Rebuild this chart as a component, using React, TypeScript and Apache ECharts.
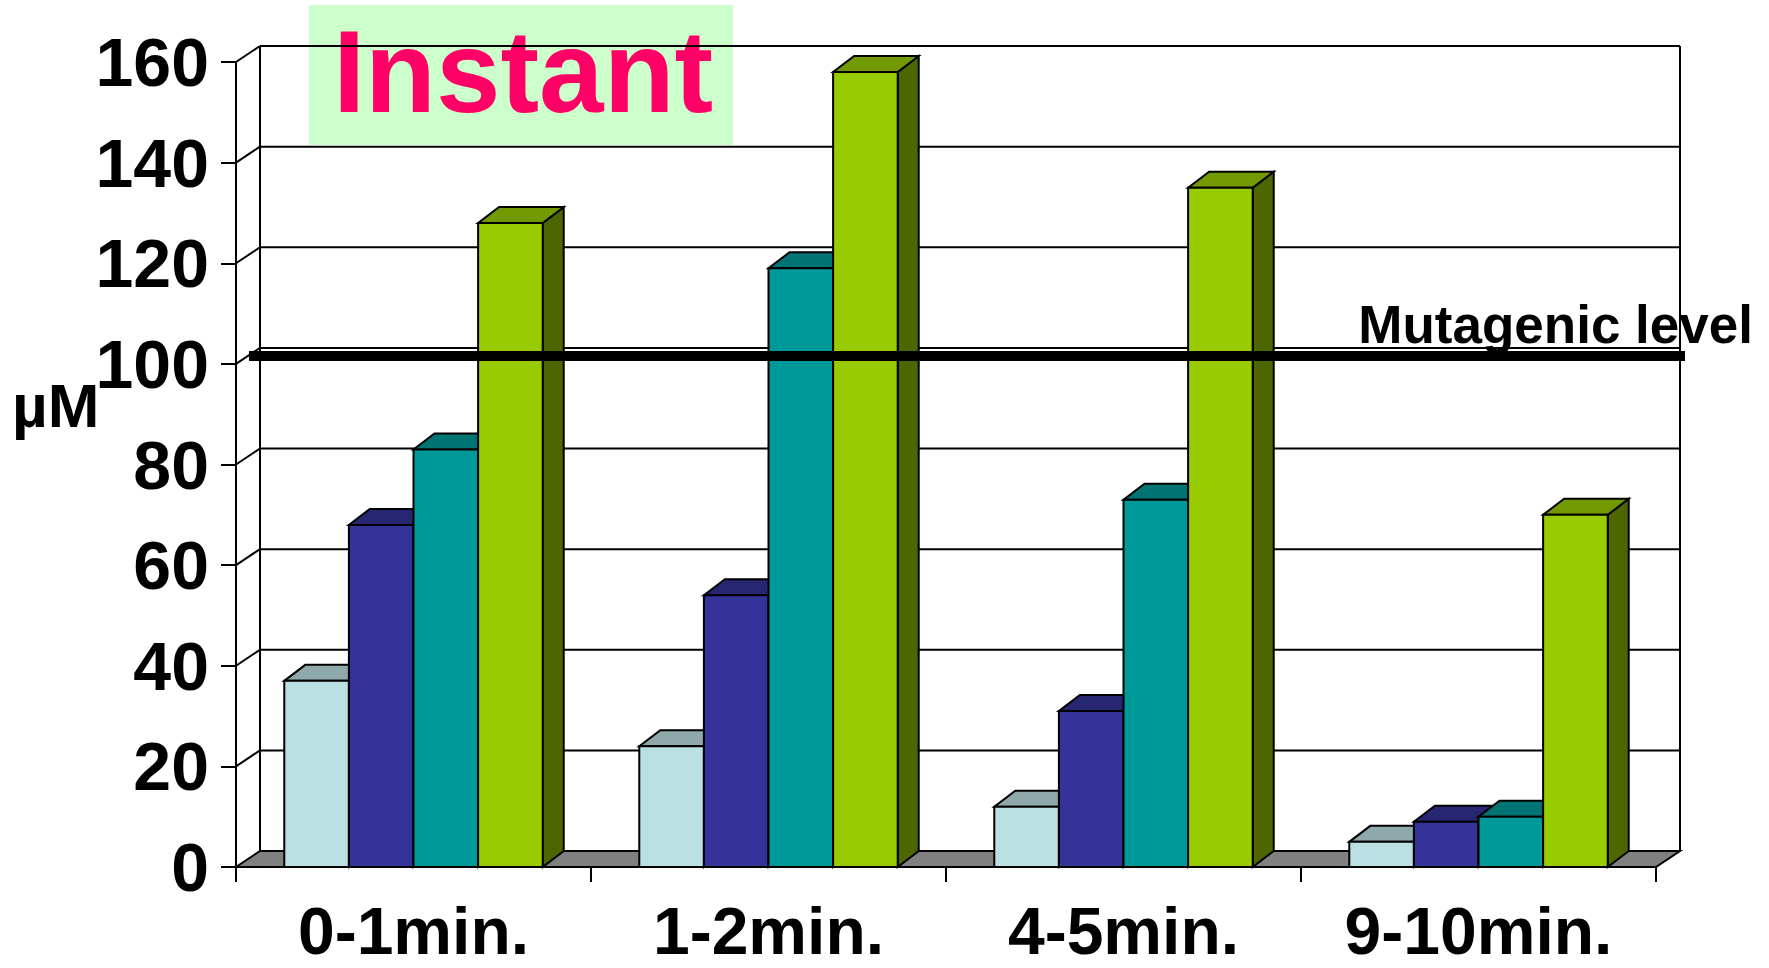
import React, { useEffect, useRef } from "react";
import * as echarts from "echarts";

const categories = ["0-1min.", "1-2min.", "4-5min.", "9-10min."];
const seriesA = [37, 24, 12, 5];
const seriesB = [68, 54, 31, 9];
const seriesC = [83, 119, 73, 10];
const seriesD = [128, 158, 135, 70];
const yTicks = [0, 20, 40, 60, 80, 100, 120, 140, 160];
const mutagenicLevel = [100];

const FONT = "'Liberation Sans', Arial, Helvetica, sans-serif";
const WALL_DX = 24;
const WALL_DY = 16;
const BAR_DX = 21;
const BAR_DY = 16;

const barStyles = [
  { front: "#BBE0E3", top: "#8FA9AB", side: "#5E7072" },
  { front: "#333399", top: "#262673", side: "#1A1A4D" },
  { front: "#009999", top: "#007373", side: "#004D4D" },
  { front: "#99CC00", top: "#739900", side: "#4D6600" },
];

function makeBarSeries(values: number[], idx: number) {
  const st = barStyles[idx];
  return {
    type: "custom",
    name: "s" + idx,
    z: 3 + idx,
    data: values.map((v, i) => [i, v]),
    renderItem: (params: any, api: any) => {
      const cat = api.value(0);
      const v = api.value(1);
      const top = api.coord([cat, v]);
      const base = api.coord([cat, 0]);
      const cw = api.size([1, 0])[0];
      const bw = cw * 0.182;
      const x0 = top[0] - 2 * bw + idx * bw;
      const yT = top[1];
      const y0 = base[1];
      const lineStyle = { stroke: "#000", lineWidth: 2 };
      return {
        type: "group",
        children: [
          {
            type: "polygon",
            shape: {
              points: [
                [x0 + bw, yT],
                [x0 + bw + BAR_DX, yT - BAR_DY],
                [x0 + bw + BAR_DX, y0 - BAR_DY],
                [x0 + bw, y0],
              ],
            },
            style: { fill: st.side, ...lineStyle },
          },
          {
            type: "polygon",
            shape: {
              points: [
                [x0, yT],
                [x0 + bw, yT],
                [x0 + bw + BAR_DX, yT - BAR_DY],
                [x0 + BAR_DX, yT - BAR_DY],
              ],
            },
            style: { fill: st.top, ...lineStyle },
          },
          {
            type: "rect",
            shape: { x: x0, y: yT, width: bw, height: y0 - yT },
            style: { fill: st.front, ...lineStyle },
          },
        ],
      };
    },
  };
}

export default function App() {
  const ref = useRef<HTMLDivElement>(null);
  useEffect(() => {
    if (!ref.current) return;
    const chart = echarts.init(ref.current, null, { renderer: "svg" });
    const option: any = {
      animation: false,
      backgroundColor: "#ffffff",
      grid: { left: 236, top: 62, width: 1420, height: 805 },
      xAxis: {
        type: "category",
        data: categories,
        boundaryGap: true,
        axisLine: { show: true, lineStyle: { color: "#000", width: 2 } },
        axisTick: { show: true, interval: 0, length: 15, lineStyle: { color: "#000", width: 2 } },
        axisLabel: {
          interval: 0,
          color: "#000",
          fontSize: 66,
          lineHeight: 54,
          fontWeight: "bold",
          fontFamily: FONT,
          margin: 37,
        },
        splitLine: { show: false },
      },
      yAxis: {
        type: "value",
        min: 0,
        max: 160,
        interval: 20,
        axisLine: { show: true, lineStyle: { color: "#000", width: 2 } },
        axisTick: { show: true, length: 15, lineStyle: { color: "#000", width: 2 } },
        axisLabel: {
          color: "#000",
          fontSize: 68,
          fontWeight: "bold",
          fontFamily: FONT,
          margin: 27,
        },
        splitLine: { show: false },
      },
      graphic: [
        {
          type: "group",
          z: 100,
          children: [
            {
              type: "rect",
              shape: { x: 309, y: 5, width: 424, height: 140 },
              style: { fill: "#CCFFCC" },
            },
            {
              type: "text",
              x: 523,
              y: 72,
              style: {
                text: "Instant",
                fill: "#FF0066",
                font: `bold 116px ${FONT}`,
                align: "center",
                verticalAlign: "middle",
              },
            },
          ],
        },
        {
          type: "text",
          z: 100,
          x: 12,
          y: 405,
          style: {
            text: "µM",
            fill: "#000",
            font: `bold 62px ${FONT}`,
            align: "left",
            verticalAlign: "middle",
          },
        },
      ],
      series: [
        {
          type: "custom",
          name: "frame",
          z: 1,
          data: yTicks.map((t) => [0, t]),
          renderItem: (params: any, api: any) => {
            const cs = params.coordSys;
            const v = api.value(1);
            const yf = api.coord([0, v])[1];
            const yb = yf - WALL_DY;
            const x = cs.x;
            const w = cs.width;
            const ls = { stroke: "#000", lineWidth: 2 };
            const children: any[] = [];
            if (v === 0) {
              const yBot = cs.y + cs.height;
              const yTop = cs.y;
              children.push({
                type: "polygon",
                shape: {
                  points: [
                    [x, yBot],
                    [x + w, yBot],
                    [x + w + WALL_DX, yBot - WALL_DY],
                    [x + WALL_DX, yBot - WALL_DY],
                  ],
                },
                style: { fill: "#808080", ...ls },
              });
              children.push({
                type: "line",
                shape: { x1: x + WALL_DX, y1: yTop - WALL_DY, x2: x + WALL_DX, y2: yBot - WALL_DY },
                style: ls,
              });
              children.push({
                type: "line",
                shape: { x1: x + w + WALL_DX, y1: yTop - WALL_DY, x2: x + w + WALL_DX, y2: yBot - WALL_DY },
                style: ls,
              });
            } else {
              children.push({
                type: "line",
                shape: { x1: x + WALL_DX, y1: yb, x2: x + w + WALL_DX, y2: yb },
                style: ls,
              });
              children.push({
                type: "line",
                shape: { x1: x, y1: yf, x2: x + WALL_DX, y2: yb },
                style: ls,
              });
            }
            return { type: "group", children };
          },
        },
        makeBarSeries(seriesA, 0),
        makeBarSeries(seriesB, 1),
        makeBarSeries(seriesC, 2),
        makeBarSeries(seriesD, 3),
        {
          type: "custom",
          name: "mutagenic",
          z: 20,
          data: mutagenicLevel.map((v) => [0, v]),
          renderItem: (params: any, api: any) => {
            const cs = params.coordSys;
            const y = api.coord([0, api.value(1)])[1] - 8;
            return {
              type: "group",
              children: [
                {
                  type: "line",
                  shape: { x1: cs.x + 13, y1: y, x2: cs.x + cs.width + 29, y2: y },
                  style: { stroke: "#000", lineWidth: 10 },
                },
                {
                  type: "text",
                  x: cs.x + cs.width + 97,
                  y: y - 31,
                  style: {
                    text: "Mutagenic level",
                    fill: "#000",
                    font: `bold 53px ${FONT}`,
                    align: "right",
                    verticalAlign: "middle",
                  },
                },
              ],
            };
          },
        },
      ],
    };
    chart.setOption(option);
    return () => chart.dispose();
  }, []);
  return (
    <div
      ref={ref}
      style={{ position: "fixed", left: 0, top: 0, width: 1769, height: 968 }}
    />
  );
}
